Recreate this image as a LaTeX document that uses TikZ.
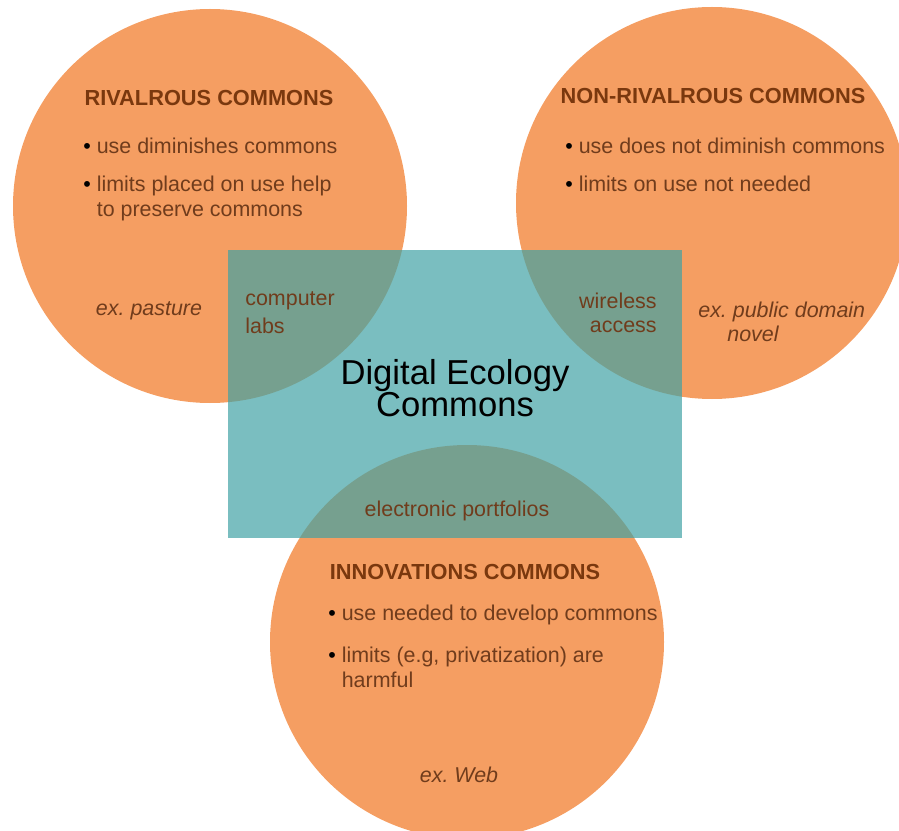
\documentclass[tikz,border=0pt]{standalone}
\usepackage{fontspec}
\setmainfont{Liberation Sans}
\frenchspacing

\definecolor{commonorange}{RGB}{245,158,98}
\definecolor{ecoteal}{RGB}{62,161,164}
\definecolor{headbrown}{RGB}{122,56,14}
\definecolor{textbrown}{RGB}{112,60,28}

\newcommand{\bul}{\textcolor{black}{\textbullet}\ }
\newcommand{\bulind}{\phantom{\textbullet\ }}

\begin{document}
\begin{tikzpicture}[x=0.02cm,y=-0.02cm,
  head/.style={font=\fontsize{12.4}{14.8}\selectfont\bfseries, text=headbrown, inner sep=0pt},
  body/.style={font=\fontsize{12.2}{14.2}\selectfont, text=textbrown, inner sep=0pt},
  example/.style={body, font=\fontsize{12.2}{14.2}\selectfont\itshape}]

\useasboundingbox (0,0) rectangle (899,831);

\begin{scope}
\clip (0,0) rectangle (899,831);
\fill[commonorange] (210,206) circle (197);
\fill[commonorange] (712,203) circle (196);
\fill[commonorange] (467,642) circle (197);
\fill[ecoteal, fill opacity=0.69] (228,250) rectangle (682,538);
\end{scope}

\node[head, anchor=base] (rivtitle) at (209,106) {RIVALROUS COMMONS};
\node[body, align=left, anchor=north west] (rivlist) at (83,138)
  {\bul use diminishes commons\\[7.4pt]\bul limits placed on use help\\\bulind to preserve commons};
\node[example, anchor=base] (rivex) at (149,315) {ex. pasture};

\node[head, anchor=base] (nonrivtitle) at (713,104) {NON-RIVALROUS COMMONS};
\node[body, align=left, anchor=north west] (nonrivlist) at (565,138)
  {\bul use does not diminish commons\\[7.4pt]\bul limits on use not needed};
\node[example, align=left, anchor=north west] (nonrivex) at (698,302)
  {ex. public domain\\[-1pt]\hspace*{0.58cm}novel};

\node[head, anchor=base] (innovtitle) at (465,579) {INNOVATIONS COMMONS};
\node[body, align=left, anchor=north west] (innovlist) at (328,605)
  {\bul use needed to develop commons\\[9.7pt]\bul limits (e.g, privatization) are\\\bulind harmful};
\node[example, anchor=base] (innovex) at (459,782) {ex. Web};

\node[body, align=left, anchor=north west] (labs) at (245,291) {computer\\[1.7pt]labs};
\node[body, align=right, anchor=north east] (wireless) at (657,293) {wireless\\[-0.5pt]access};
\node[body, anchor=base] (portfolios) at (457,516) {electronic portfolios};

\node[font=\fontsize{19.7}{18.4}\selectfont, align=center, inner sep=0pt, anchor=north] (ecotitle)
  at (455,359) {Digital Ecology\\Commons};

\end{tikzpicture}
\end{document}
